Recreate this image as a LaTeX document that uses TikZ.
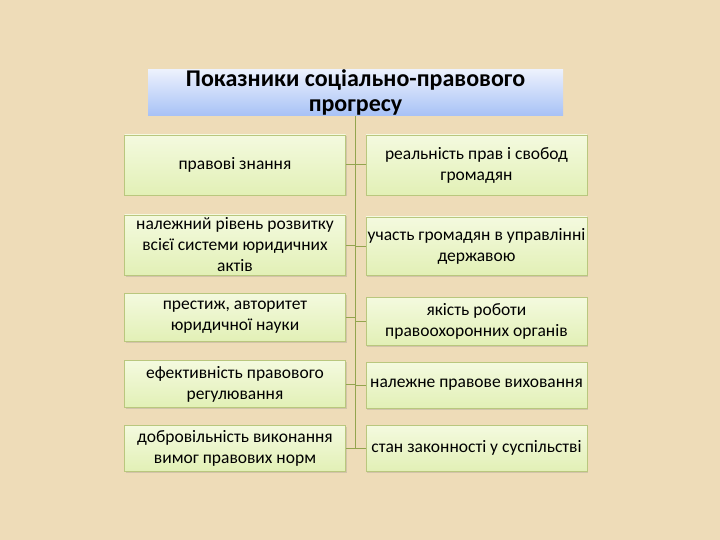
\documentclass[tikz,border=0pt]{standalone}
\usepackage{fontspec}
\setmainfont{Carlito}
\usepackage{tikz}
\usetikzlibrary{positioning,calc,shadows}

\definecolor{paper}{HTML}{EEDCB8}
\definecolor{titletop}{HTML}{ECF1FD}
\definecolor{titlebot}{HTML}{A8C2F6}
\definecolor{boxtop}{HTML}{F4FADF}
\definecolor{boxbot}{HTML}{E2F0B6}
\definecolor{boxline}{HTML}{B9C77E}
\definecolor{trunk}{HTML}{93A44E}

\tikzset{
  titlebox/.style={top color=titletop, bottom color=titlebot, draw=none,
    minimum width=415pt, minimum height=45pt, inner sep=0pt,
    align=center, font=\fontsize{24}{25}\selectfont\bfseries},
  itembox/.style={top color=boxtop, bottom color=boxbot, draw=boxline, line width=0.6pt,
    minimum width=221pt, inner sep=0pt, align=center,
    font=\fontsize{17.5}{21}\selectfont,
    drop shadow={shadow xshift=1pt, shadow yshift=-1.5pt, opacity=0.25}},
  link/.style={trunk, line width=1pt}
}

\begin{document}
\begin{tikzpicture}[x=1pt,y=-1pt]
  \fill[paper] (0,0) rectangle (720,540);
  \useasboundingbox (0,0) rectangle (720,540);

  \node[titlebox] (title) at (355.5, 92.5) {Показники соціально-правового\\прогресу};

  % left column
  \node[itembox, minimum height=60pt] (l1) at (235, 165) {правові знання};
  \node[itembox, minimum height=60pt] (l2) at (235, 245) {належний рівень розвитку\\всієї системи юридичних\\актів};
  \node[itembox, minimum height=48pt] (l3) at (235, 317) {престиж, авторитет\\юридичної науки};
  \node[itembox, minimum height=47pt] (l4) at (235, 384) {ефективність правового\\регулювання};
  \node[itembox, minimum height=46pt] (l5) at (235, 448) {добровільність виконання\\вимог правових норм};

  % right column
  \node[itembox, minimum height=60pt] (r1) at (476.5, 165) {реальність прав і свобод\\громадян};
  \node[itembox, minimum height=58pt] (r2) at (476.5, 246) {участь громадян в управлінні\\державою};
  \node[itembox, minimum height=48pt] (r3) at (476.5, 321) {якість роботи\\правоохоронних органів};
  \node[itembox, minimum height=46pt] (r4) at (476.5, 385) {належне правове виховання};
  \node[itembox, minimum height=46pt] (r5) at (476.5, 448) {стан законності у суспільстві};

  \coordinate (bottom) at (title.south |- l5.east);

  \draw[link] (title.south) -- (bottom);
  \foreach \i in {1,...,5} {
    \draw[link] (l\i.east) -- (l\i.east -| title.south);
    \draw[link] (r\i.west) -- (r\i.west -| title.south);
  }
\end{tikzpicture}
\end{document}
